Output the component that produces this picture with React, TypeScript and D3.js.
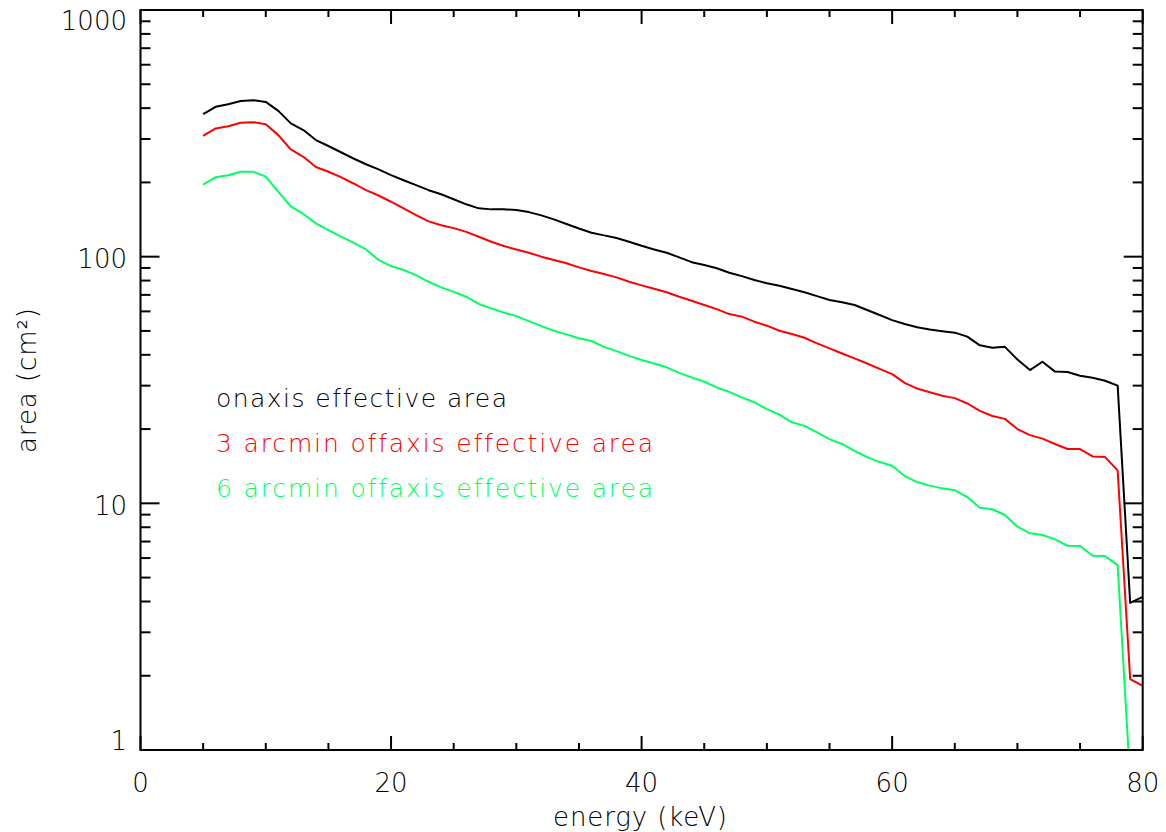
import React from 'react';
import * as d3 from 'd3';

// energy grid (keV)
const energy = [
  5, 6, 7, 8, 9, 10, 11, 12, 13, 14, 15, 16, 17, 18, 19, 20, 21, 22, 23, 24,
  25, 26, 27, 28, 29, 30, 31, 32, 33, 34, 35, 36, 37, 38, 39, 40, 41, 42, 43, 44,
  45, 46, 47, 48, 49, 50, 51, 52, 53, 54, 55, 56, 57, 58, 59, 60, 61, 62, 63, 64,
  65, 66, 67, 68, 69, 70, 71, 72, 73, 74, 75, 76, 77, 78, 79, 80,
];

// effective area (cm^2)
const onAxis = [
  378, 405, 415, 428, 431, 424, 390, 347, 326, 297, 281, 265, 250, 237, 226, 214, 204, 195, 186, 179,
  171, 163, 157, 155.5, 155.5, 154.5, 151.6, 147, 141.6, 135.6, 130, 125, 122, 119, 115, 110.7, 107, 103.7, 99.3, 95,
  92.5, 89.7, 86.1, 83.4, 80.4, 78, 76.2, 73.9, 71.7, 69.2, 66.7, 65.3, 63.7, 60.8, 58, 55.3, 53.3, 51.7, 50.7, 49.9,
  49.2, 47.4, 43.7, 42.7, 43.1, 38.3, 34.7, 37.5, 34.2, 34.1, 32.9, 32.3, 31.4, 30, 3.95, 4.18,
];

const offAxis3 = [
  309, 331, 338, 349, 351, 344, 311, 272, 254, 231, 221, 210, 198, 186, 177, 167, 157, 147.5, 139, 134,
  130.5, 126, 120.4, 115, 110.4, 107, 103.7, 100, 96.9, 94, 90.5, 87.5, 85, 82.4, 79.1, 76.5, 74.1, 71.7, 68.8, 66.3,
  63.7, 61.3, 58.5, 57.1, 54.5, 52.5, 50.1, 48.6, 46.9, 44.5, 42.5, 40.5, 38.7, 36.9, 35.1, 33.4, 30.8, 29.2, 28.2, 27.3,
  26.7, 25.4, 23.7, 22.6, 22, 20, 18.9, 18.3, 17.4, 16.6, 16.6, 15.5, 15.4, 13.6, 1.94, 1.82,
];

const offAxis6 = [
  196, 210, 214, 221, 221, 211, 183, 160, 149, 136.5, 128, 120.5, 114, 107, 97, 91.6, 88.3, 84.2, 79.1, 75.1,
  72, 68.8, 64.3, 61.7, 59.3, 57.4, 54.8, 52.3, 50.1, 48.4, 46.7, 45.5, 43.1, 41.4, 39.6, 38.1, 36.9, 35.6, 33.8, 32.4,
  31.1, 29.5, 28.3, 26.9, 25.7, 24.1, 22.9, 21.3, 20.6, 19.4, 18.2, 17.4, 16.3, 15.4, 14.7, 14.2, 12.9, 12.2, 11.8, 11.5,
  11.3, 10.6, 9.6, 9.46, 8.97, 8.04, 7.56, 7.44, 7.14, 6.73, 6.71, 6.13, 6.11, 5.62, 0.75, 0.7,
];

const seriesNames = [
  'onaxis effective area',
  '3 arcmin offaxis effective area',
  '6 arcmin offaxis effective area',
];
const seriesColors = ['#000000', '#ff0000', '#00ff60'];

const xTickLabels = ['0', '20', '40', '60', '80'];
const yTickLabels = ['1', '10', '100', '1000'];

const W = 1166;
const H = 832;
const FONT = "'DejaVu Sans', sans-serif";
const textStyle = { fontVariantLigatures: 'none', fontWeight: 200 } as React.CSSProperties;

export default function App() {
  const left = 140.5;
  const right = 1142.7;
  const top = 10;
  const bottom = 750;

  const x = d3.scaleLinear().domain([0, 80]).range([left, right]);
  const y = d3.scaleLog().domain([1, 1000]).range([bottom, top]);

  const line = d3
    .line<number>()
    .x((_, i) => x(energy[i]))
    .y((d) => y(d));

  const series = [onAxis, offAxis3, offAxis6];

  const xMinor = x.ticks(16);
  const yMinor = y.ticks();

  return (
    <svg
      width={W}
      height={H}
      style={{ position: 'absolute', left: 0, top: 0, background: '#fff' }}
      fontFamily={FONT}
    >
      <defs>
        <clipPath id="plot">
          <rect x={left} y={top} width={right - left} height={bottom - top} />
        </clipPath>
      </defs>

      {/* curves */}
      <g clipPath="url(#plot)">
        {series.map((s, i) => (
          <path
            key={i}
            d={line(s) || ''}
            fill="none"
            stroke={seriesColors[i]}
            strokeWidth={2}
            strokeLinejoin="round"
          />
        ))}
      </g>

      {/* frame */}
      <rect
        x={left}
        y={top}
        width={right - left}
        height={bottom - top}
        fill="none"
        stroke="#000"
        strokeWidth={2}
      />

      {/* x ticks, bottom and top */}
      {xMinor.map((t) => {
        const major = t % 20 === 0;
        const len = major ? 14 : 7;
        return (
          <g key={'x' + t} stroke="#000" strokeWidth={2}>
            <line x1={x(t)} x2={x(t)} y1={bottom} y2={bottom - len} />
            <line x1={x(t)} x2={x(t)} y1={top} y2={top + len} />
          </g>
        );
      })}

      {/* y ticks, left and right */}
      {yMinor.map((t) => {
        const major = Math.abs(Math.log10(t) - Math.round(Math.log10(t))) < 1e-9;
        const len = major ? 19 : 10;
        return (
          <g key={'y' + t} stroke="#000" strokeWidth={2}>
            <line x1={left} x2={left + len} y1={y(t)} y2={y(t)} />
            <line x1={right} x2={right - len} y1={y(t)} y2={y(t)} />
          </g>
        );
      })}

      {/* x tick labels */}
      {xTickLabels.map((lab) => (
        <text
          key={'xl' + lab}
          x={x(+lab)}
          y={792}
          fontSize={26}
          textAnchor="middle"
          fill="#000"
          style={textStyle}
        >
          {lab}
        </text>
      ))}

      {/* y tick labels */}
      {yTickLabels.map((lab) => {
        const base = Math.min(bottom, Math.max(30, y(+lab) + 11.7));
        return (
          <text
            key={'yl' + lab}
            x={127}
            y={base}
            fontSize={26}
            textAnchor="end"
            fill="#000"
            style={textStyle}
          >
            {lab}
          </text>
        );
      })}

      {/* axis titles */}
      <text
        x={553}
        y={826}
        fontSize={26}
        fill="#000"
        textLength={174}
        lengthAdjust="spacing"
        style={textStyle}
      >
        energy (keV)
      </text>
      <text
        transform={`translate(36,453) rotate(-90)`}
        fontSize={26}
        fill="#000"
        textLength={145}
        lengthAdjust="spacing"
        style={textStyle}
      >
        area (cm²)
      </text>

      {/* legend */}
      {seriesNames.map((name, i) => (
        <text
          key={name}
          x={216}
          y={407 + i * 45}
          fontSize={25}
          fill={seriesColors[i]}
          textLength={i === 0 ? 291 : 437}
          lengthAdjust="spacing"
          style={textStyle}
        >
          {name}
        </text>
      ))}
    </svg>
  );
}
